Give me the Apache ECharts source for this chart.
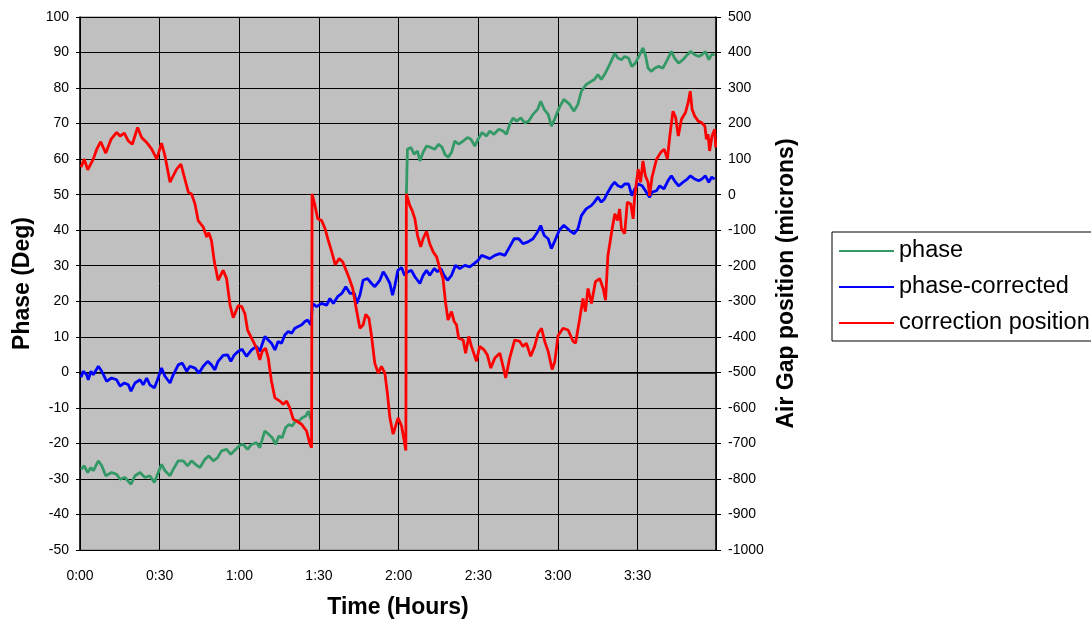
<!DOCTYPE html>
<html>
<head>
<meta charset="utf-8">
<script src="https://cdn.jsdelivr.net/npm/echarts@6/dist/echarts.min.js"></script>
<style>
html,body{margin:0;padding:0;background:#fff;}
#chart{width:1091px;height:624px;}
</style>
</head>
<body>
<div id="chart"></div>
<script>
// ---- data (time in minutes) ----
var seriesNames = ['phase', 'phase-corrected', 'correction position'];

var phaseTime = [0.4,1.6,2.9,4.1,5.0,6.9,8.2,9.7,11.9,13.8,15.1,16.9,19.2,20.7,22.6,24.5,26.3,28.0,29.2,30.7,32.0,33.9,35.1,37.0,38.9,40.5,42.0,43.5,45.2,47.0,48.5,50.2,51.8,53.3,55.2,56.8,58.3,60.2,61.5,63.1,64.6,66.5,67.7,69.6,71.1,72.4,73.6,74.9,76.1,77.4,78.7,79.9,81.2,82.4,83.7,85.0,86.0,87.0,
  100,
  122.9,123.3,124.6,125.8,127.1,128.0,129.2,130.5,132.1,133.6,135.1,136.4,137.4,138.6,139.9,141.1,142.6,144.3,145.9,147.2,148.7,149.9,151.4,153.1,154.3,155.9,157.7,159.3,160.6,161.8,163.1,164.4,166.0,167.5,169.0,170.6,172.3,173.5,174.8,176.3,177.5,178.8,180.5,182.2,184.4,186.0,187.5,188.8,190.6,192.5,193.7,195.0,196.3,197.8,199.1,200.3,201.4,202.6,203.9,205.1,206.6,207.8,209.1,210.8,212.0,212.9,213.9,215.2,216.4,217.9,219.5,221.2,222.7,223.9,225.4,227.1,228.7,229.9,231.5,233.0,234.2,235.5,236.8,237.8,239.0];
var phaseDeg = [-27.3,-26.3,-28.2,-26.8,-27.7,-24.9,-26.3,-29.1,-28.2,-28.7,-30.1,-29.6,-31.5,-29.1,-28.2,-29.6,-29.1,-31.0,-28.7,-25.9,-27.7,-29.1,-27.3,-24.9,-24.9,-26.3,-24.9,-25.9,-26.8,-24.5,-23.5,-24.9,-24.0,-22.1,-21.7,-23.1,-21.9,-20.5,-20.3,-21.7,-20.3,-19.8,-21.2,-16.5,-17.5,-18.4,-20.3,-17.9,-18.4,-15.6,-14.7,-15.1,-13.7,-13.7,-12.8,-12.3,-10.9,-13.3,
  null,
  50.0,62.8,63.3,61.4,62.3,59.5,61.9,63.7,63.3,62.8,64.2,63.3,61.4,60.5,61.9,65.1,64.2,65.1,66.1,65.6,63.7,65.6,67.5,66.5,67.9,67.0,68.4,67.9,67.0,69.8,71.6,70.7,71.6,70.2,70.7,72.6,74.0,76.3,74.0,72.6,69.3,71.4,74.5,76.8,75.4,73.5,75.4,79.1,81.0,81.9,82.4,83.8,82.4,84.2,86.1,88.0,89.8,88.4,88.0,88.9,88.4,86.1,87.0,89.4,91.3,89.4,85.6,84.7,85.6,86.1,85.6,88.0,90.3,88.4,87.0,88.0,89.4,90.3,89.4,88.9,89.4,90.3,88.0,89.4,89.4];

var correctedTime = [0.4,1.2,2.5,3.1,4.1,5.0,6.9,8.2,10.0,11.9,13.8,15.1,16.7,18.2,19.2,20.7,22.6,23.8,25.1,26.3,28.0,29.2,30.7,32.0,33.9,35.1,37.0,38.5,40.2,41.4,43.3,44.8,46.4,48.1,49.5,50.8,52.0,53.9,55.6,56.8,58.1,59.6,61.0,62.7,64.6,66.5,67.7,69.6,70.9,72.1,73.4,74.6,75.9,77.1,78.4,79.7,80.9,82.2,83.4,84.7,85.7,87.0,87.5,89.1,91.0,92.9,94.1,95.4,97.0,98.6,100.1,101.7,103.3,104.2,105.4,106.6,108.3,109.8,111.0,112.9,114.2,115.4,116.7,117.7,118.6,119.7,121.1,122.2,123.5,124.8,126.1,128.0,129.2,130.5,131.7,133.4,134.6,135.9,137.1,138.4,139.9,141.4,143.0,144.9,146.8,148.4,149.9,151.2,152.7,154.3,156.2,158.1,160.0,161.8,163.5,165.2,166.8,168.7,170.6,172.3,173.5,174.8,176.3,177.5,178.8,180.5,182.2,184.4,186.0,187.5,188.8,190.6,192.5,193.7,195.0,196.3,197.5,198.8,200.2,201.3,202.6,203.9,205.1,206.6,207.8,208.9,210.2,211.7,213.3,214.5,215.4,217.1,218.3,219.9,221.4,222.7,223.9,225.4,227.1,228.7,229.9,231.5,233.0,234.2,235.5,236.8,237.8,239.0];
var correctedDeg = [-1.4,0.3,-0.7,-2.1,0.3,-0.7,1.7,0.3,-2.5,-1.6,-2.1,-3.9,-3.0,-3.5,-5.3,-3.0,-2.1,-3.5,-1.6,-3.5,-4.4,-2.1,1.2,-1.1,-3.0,-0.7,2.1,2.6,0.3,1.7,1.2,-0.2,1.7,3.1,2.1,0.7,3.1,4.8,4.9,3.1,4.9,5.9,6.5,4.5,6.3,7.3,5.9,10.1,9.1,8.2,6.3,8.7,8.2,10.5,11.5,11.0,12.4,12.9,13.3,14.3,14.7,13.3,19.4,18.5,19.4,18.9,20.8,19.4,21.3,22.2,24.1,22.2,22.2,19.4,21.7,25.9,26.4,25.0,24.1,25.9,28.3,26.9,25.0,21.7,24.5,28.7,29.5,27.3,28.3,28.7,26.9,25.0,27.3,28.7,27.3,29.2,28.3,29.2,27.3,25.9,27.3,30.1,29.2,30.1,29.7,30.6,31.5,32.9,32.5,32.0,32.9,33.4,32.9,35.3,37.6,37.6,36.2,36.7,37.6,39.5,41.3,38.5,37.6,34.8,37.0,40.0,41.4,39.9,39.0,40.4,44.1,46.0,46.9,47.9,49.3,47.9,48.8,50.7,52.5,53.5,52.5,52.1,53.0,53.0,49.7,51.6,53.0,52.5,50.7,49.3,50.7,51.1,52.5,51.6,53.9,55.3,53.9,52.5,53.5,54.4,55.3,54.4,53.9,54.4,55.3,53.5,54.9,54.4];

var correctionTime = [0.4,1.6,2.9,5.0,6.3,7.8,9.7,11.7,13.8,15.1,16.7,18.2,19.7,21.7,23.2,25.1,27.0,28.9,30.7,32.0,33.9,35.1,36.4,38.0,39.5,40.8,42.0,43.3,44.5,46.4,47.7,48.5,49.5,50.6,52.0,53.9,55.2,56.5,57.7,59.6,60.9,62.1,63.1,64.6,66.5,67.7,68.6,69.9,70.9,72.1,73.4,75.3,76.5,77.8,79.0,80.3,81.6,83.4,85.3,86.6,87.2,87.4,88.5,89.5,91.0,92.3,93.5,94.8,96.1,97.6,98.9,100.2,101.4,102.7,104.0,105.4,106.6,107.6,108.8,109.8,111.0,112.3,113.5,114.8,115.8,116.7,117.9,119.8,121.1,122.3,122.7,122.9,123.3,124.2,125.1,126.1,127.1,128.3,129.2,130.5,131.7,133.0,134.3,135.5,136.7,137.6,138.6,139.9,140.9,141.8,142.6,144.3,145.2,146.4,147.4,149.3,150.5,152.2,153.4,154.7,156.2,158.1,159.3,160.3,161.8,163.7,165.6,166.8,168.1,169.7,171.2,172.5,173.8,175.0,176.3,177.8,178.8,180.0,181.9,183.8,185.7,186.6,188.2,189.4,190.3,191.3,192.6,194.1,195.7,197.0,197.9,198.8,200.4,201.4,202.4,203.2,203.9,205.1,206.1,207.4,208.3,208.9,210.2,211.1,212.0,212.9,213.9,214.5,215.4,217.1,218.7,220.0,221.2,222.1,223.3,224.3,225.3,226.5,228.0,229.0,229.8,230.5,231.5,232.8,234.0,235.3,235.9,236.5,237.1,238.0,239.0,239.4];
var correctionMicrons = [77,100,70,100,128,149,117,156,175,165,173,151,142,189,161,147,128,100,145,109,35,53,72,86,44,7,2,-26,-73,-91,-119,-107,-129,-189,-241,-213,-236,-311,-346,-312,-315,-335,-381,-404,-432,-465,-441,-432,-460,-525,-572,-581,-590,-581,-600,-632,-637,-646,-665,-702,-712,2,-31,-68,-73,-96,-129,-161,-197,-180,-189,-213,-236,-264,-320,-376,-367,-337,-348,-399,-474,-502,-483,-502,-562,-628,-674,-628,-651,-702,-720,2,-3,-31,-45,-68,-115,-147,-124,-103,-138,-161,-175,-208,-236,-301,-353,-329,-357,-367,-404,-409,-446,-399,-427,-469,-427,-437,-451,-488,-460,-446,-483,-516,-460,-409,-413,-427,-418,-455,-427,-390,-376,-413,-441,-492,-470,-397,-376,-381,-413,-418,-348,-292,-329,-264,-306,-245,-236,-264,-297,-171,-96,-54,-73,-40,-96,-110,-21,-26,-68,-3,72,35,95,53,35,-3,49,100,119,128,100,165,235,217,165,212,231,259,291,240,221,207,203,193,156,170,123,165,184,133];

var xTickMinutes = [0, 30, 60, 90, 120, 150, 180, 210];

function pairs(t, v) {
  return t.map(function (x, i) { return [x, v[i] === null ? '-' : v[i]]; });
}
function fmtTime(m) {
  if (xTickMinutes.indexOf(m) < 0) return '';
  var h = Math.floor(m / 60), mm = m % 60;
  return h + ':' + (mm < 10 ? '0' + mm : mm);
}
function plain(v) { return String(v); }

var FONT = "'Liberation Sans', Arial, sans-serif";
var chart = echarts.init(document.getElementById('chart'));
chart.setOption({
  animation: false,
  backgroundColor: '#ffffff',
  grid: {
    left: 80, right: 375, top: 17, bottom: 71,
    show: true, backgroundColor: '#c0c0c0', borderColor: '#808080', borderWidth: 1
  },
  legend: {
    orient: 'vertical', left: 832, top: 232,
    padding: [7, 30, 6, 7], itemGap: 12,
    itemWidth: 55, itemHeight: 2, icon: 'rect',
    backgroundColor: '#ffffff', borderColor: '#000000', borderWidth: 1,
    textStyle: { fontFamily: FONT, fontSize: 23.5, color: '#000' },
    data: seriesNames
  },
  xAxis: {
    type: 'value', min: 0, max: 239.5, interval: 30,
    name: 'Time (Hours)', nameLocation: 'middle', nameGap: 46,
    nameTextStyle: { fontFamily: FONT, fontSize: 23, fontWeight: 'bold', color: '#000' },
    axisLine: { lineStyle: { color: '#000', width: 1.5 } },
    axisTick: { show: false },
    axisLabel: { fontFamily: FONT, fontSize: 14, color: '#000', margin: 19, formatter: fmtTime, showMaxLabel: false },
    splitLine: { show: true, lineStyle: { color: '#000', width: 1 } }
  },
  yAxis: [{
    type: 'value', min: -50, max: 100, interval: 10, position: 'left',
    name: 'Phase (Deg)', nameLocation: 'middle', nameGap: 46,
    nameTextStyle: { fontFamily: FONT, fontSize: 23, fontWeight: 'bold', color: '#000' },
    axisLine: { show: true, lineStyle: { color: '#000', width: 1.5 } },
    axisTick: { show: true, length: 4, lineStyle: { color: '#000' } },
    axisLabel: { fontFamily: FONT, fontSize: 14, color: '#000', margin: 11, formatter: plain },
    splitLine: { show: true, lineStyle: { color: '#000', width: 1 } }
  }, {
    type: 'value', min: -1000, max: 500, interval: 100, position: 'right',
    name: 'Air Gap position (microns)', nameLocation: 'middle', nameGap: 57,
    nameTextStyle: { fontFamily: FONT, fontSize: 23, fontWeight: 'bold', color: '#000' },
    axisLine: { show: true, lineStyle: { color: '#000', width: 1.5 } },
    axisTick: { show: true, length: 5, lineStyle: { color: '#000' } },
    axisLabel: { fontFamily: FONT, fontSize: 14, color: '#000', margin: 12, formatter: plain },
    splitLine: { show: false }
  }],
  series: [{
    name: seriesNames[0], type: 'line', yAxisIndex: 0, showSymbol: false, connectNulls: false,
    color: '#339966', lineStyle: { width: 2.8, color: '#339966' },
    data: pairs(phaseTime, phaseDeg)
  }, {
    name: seriesNames[1], type: 'line', yAxisIndex: 0, showSymbol: false,
    color: '#0000ff', lineStyle: { width: 2.8, color: '#0000ff' },
    data: pairs(correctedTime, correctedDeg)
  }, {
    name: seriesNames[2], type: 'line', yAxisIndex: 1, showSymbol: false,
    color: '#ff0000', lineStyle: { width: 2.8, color: '#ff0000' },
    data: pairs(correctionTime, correctionMicrons)
  }]
});
</script>
</body>
</html>
